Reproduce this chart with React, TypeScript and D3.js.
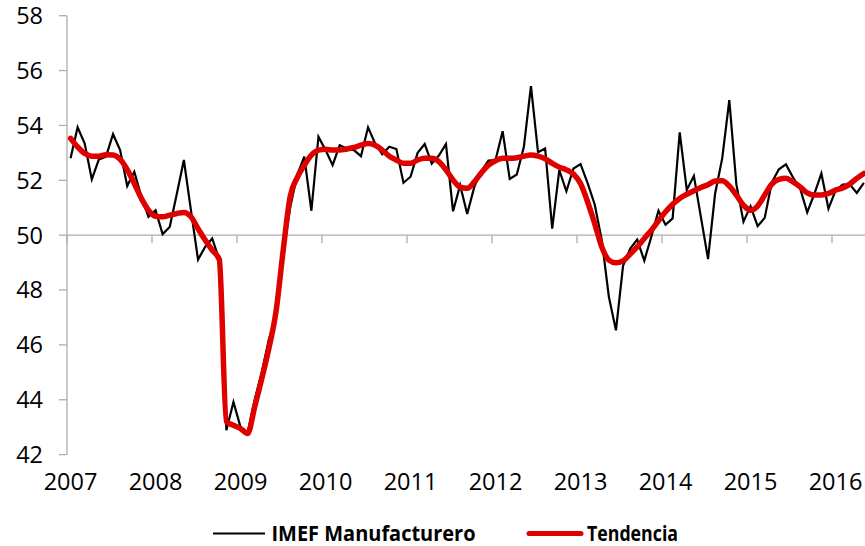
import React from "react";
import * as d3 from "d3";

const years = ["2007", "2008", "2009", "2010", "2011", "2012", "2013", "2014", "2015", "2016"];
const yTicks = [42, 44, 46, 48, 50, 52, 54, 56, 58];
const seriesNames = ["IMEF Manufacturero", "Tendencia"];

// Monthly values, Jan 2007 .. May 2016
const imef = [
  52.8, 53.93, 53.34, 52.03, 52.76, 52.86, 53.68, 53.1, 51.79, 52.31, 51.4, 50.67,
  50.91, 50.04, 50.3, 51.5, 52.74, 50.9, 49.11, 49.57, 49.88, 49.1, 42.89, 43.92,
  43.0, 42.8, 44.0, 45.0, 46.2, 47.0, 49.3, 51.0, 52.2, 52.86, 50.89, 53.59,
  53.1, 52.55, 53.28, 53.16, 53.1, 52.88, 53.93, 53.34, 52.95, 53.22, 53.14, 51.91,
  52.13, 53.0, 53.32, 52.61, 52.9, 53.32, 50.87, 51.82, 50.77, 51.76, 52.34, 52.72,
  52.74, 53.79, 52.05, 52.21, 53.22, 55.43, 53.02, 53.16, 50.24, 52.37, 51.6, 52.43,
  52.59, 51.9, 51.12, 49.82, 47.75, 46.53, 48.88, 49.5, 49.84, 49.07, 49.95, 50.89,
  50.38, 50.61, 53.75, 51.65, 52.16, 50.65, 49.13, 51.52, 52.8, 54.92, 51.85, 50.49,
  51.06, 50.33, 50.63, 51.92, 52.4, 52.58, 52.1, 51.7, 50.83, 51.5, 52.25, 50.97,
  51.62, 51.84, 51.85, 51.54, 51.91,
];

const tendencia = [
  53.53, 53.22, 52.98, 52.88, 52.88, 52.93, 52.92, 52.76, 52.39, 51.88, 51.34, 50.91,
  50.69, 50.67, 50.73, 50.79, 50.83, 50.67, 50.24, 49.82, 49.45, 49.11, 43.2, 43.07,
  42.95, 42.77, 43.74, 44.77, 45.87, 47.2, 49.4, 51.4, 52.1, 52.55, 52.92, 53.1,
  53.13, 53.1, 53.1, 53.14, 53.2, 53.28, 53.34, 53.28, 53.1, 52.88, 52.74, 52.62,
  52.62, 52.74, 52.8, 52.8, 52.68, 52.38, 52.01, 51.75, 51.71, 51.94, 52.27, 52.55,
  52.71, 52.8, 52.8, 52.82, 52.88, 52.92, 52.88, 52.78, 52.62, 52.48, 52.38, 52.23,
  51.88, 51.21, 50.42, 49.57, 49.09, 48.99, 49.06, 49.31, 49.57, 49.88, 50.18, 50.52,
  50.85, 51.13, 51.34, 51.49, 51.62, 51.74, 51.84, 51.97, 51.98, 51.79, 51.46, 51.09,
  50.91, 51.06, 51.46, 51.86, 52.03, 52.07, 51.94, 51.76, 51.54, 51.46, 51.46, 51.52,
  51.64, 51.72, 51.86, 52.07, 52.25,
];

const W = 865;
const H = 546;
const FONT = "'Open Sans', 'Liberation Sans', sans-serif";
const AXIS = "#ADADAD";

export default function App() {
  const x0 = 67;
  const monthW = 85 / 12;
  const x = d3.scaleLinear().domain([0, 113]).range([x0, x0 + 113 * monthW]);
  const y = d3.scaleLinear().domain([42, 58]).range([454.6, 15.7]);

  const line = d3
    .line<number>()
    .x((_, i) => x(i + 0.5))
    .y((d) => y(d));
  const smooth = d3
    .line<number>()
    .x((_, i) => x(i + 0.5))
    .y((d) => y(d))
    .curve(d3.curveMonotoneX);

  const axisY = y(50);

  return (
    <svg
      width={W}
      height={H}
      style={{ position: "absolute", left: 0, top: 0, background: "#fff" }}
      fontFamily={FONT}
    >
      {/* y axis */}
      <line x1={x0} x2={x0} y1={y(58)} y2={y(42)} stroke={AXIS} strokeWidth={1.3} />
      {yTicks.map((t) => (
        <g key={t}>
          <line x1={x0 - 8} x2={x0} y1={y(t)} y2={y(t)} stroke={AXIS} strokeWidth={1.3} />
          <text
            x={43}
            y={y(t)}
            dy="0.36em"
            textAnchor="end"
            fontSize={23.5}
            fill="#000"
          >
            {t}
          </text>
        </g>
      ))}
      {/* x axis crossing at 50 */}
      <line x1={x0} x2={W} y1={axisY} y2={axisY} stroke={AXIS} strokeWidth={1.3} />
      {years.map((yr, k) => (
        <g key={yr}>
          <line
            x1={x(k * 12)}
            x2={x(k * 12)}
            y1={axisY}
            y2={axisY + 8}
            stroke={AXIS}
            strokeWidth={1.3}
          />
          <text
            x={x(k * 12) + 3.5}
            y={490}
            textAnchor="middle"
            fontSize={23.5}
            fill="#000"
          >
            {yr}
          </text>
        </g>
      ))}
      {/* series */}
      <path d={line(imef) || ""} fill="none" stroke="#000" strokeWidth={2.2} strokeLinejoin="miter" />
      <path
        d={smooth(tendencia) || ""}
        fill="none"
        stroke="#DF0000"
        strokeWidth={5.5}
        strokeLinejoin="round"
        strokeLinecap="round"
      />
      {/* legend */}
      <line x1={213} x2={265} y1={533.5} y2={533.5} stroke="#000" strokeWidth={2.2} />
      <text
        x={271.5}
        y={541}
        fontSize={22}
        fontWeight="bold"
        textLength={204}
        lengthAdjust="spacingAndGlyphs"
      >
        {seriesNames[0]}
      </text>
      <line
        x1={529}
        x2={581}
        y1={533.5}
        y2={533.5}
        stroke="#DF0000"
        strokeWidth={5}
        strokeLinecap="round"
      />
      <text
        x={587}
        y={541}
        fontSize={22}
        fontWeight="bold"
        textLength={91}
        lengthAdjust="spacingAndGlyphs"
      >
        {seriesNames[1]}
      </text>
    </svg>
  );
}
